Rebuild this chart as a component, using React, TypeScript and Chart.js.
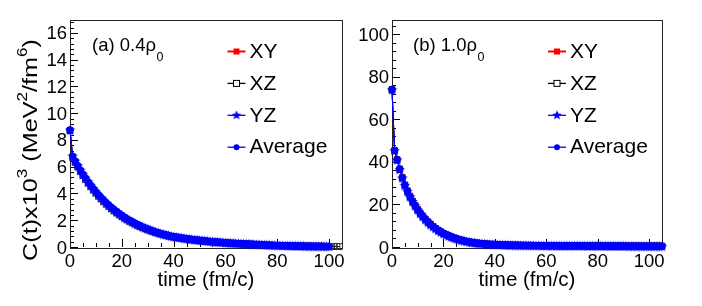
import React, { useEffect, useRef } from "react";
import { Chart, registerables } from "chart.js";
Chart.register(...registerables);

const FONT = '"Liberation Sans", Arial, Helvetica, sans-serif';

// time (fm/c)
const TIMES = [
  0, 1, 2, 3, 4, 5, 6, 7, 8, 9, 10, 11, 12, 13, 14, 15, 16, 17, 18, 19, 20,
  21, 22, 23, 24, 25, 26, 27, 28, 29, 30, 31, 32, 33, 34, 35, 36, 37, 38, 39, 40,
  41, 42, 43, 44, 45, 46, 47, 48, 49, 50, 51, 52, 53, 54, 55, 56, 57, 58, 59, 60,
  61, 62, 63, 64, 65, 66, 67, 68, 69, 70, 71, 72, 73, 74, 75, 76, 77, 78, 79, 80,
  81, 82, 83, 84, 85, 86, 87, 88, 89, 90, 91, 92, 93, 94, 95, 96, 97, 98, 99, 100,
  101, 102, 103, 104, 105,
];

// (a) 0.4 rho0 : XY, YZ and Average coincide in the picture
const LEFT_MAIN = [
  8.75,
  6.8, 6.43, 6.08, 5.75, 5.44, 5.15, 4.87, 4.61, 4.36, 4.12,
  3.9, 3.69, 3.49, 3.3, 3.12, 2.95, 2.79, 2.64, 2.5, 2.36,
  2.23, 2.11, 2.0, 1.89, 1.79, 1.69, 1.6, 1.51, 1.43, 1.35,
  1.28, 1.21, 1.14, 1.08, 1.02, 0.97, 0.92, 0.87, 0.82, 0.78,
  0.75, 0.72, 0.69, 0.66, 0.63, 0.6, 0.58, 0.55, 0.53, 0.51,
  0.49, 0.47, 0.45, 0.43, 0.41, 0.39, 0.38, 0.36, 0.35, 0.33,
  0.32, 0.3, 0.29, 0.28, 0.27, 0.26, 0.25, 0.24, 0.23, 0.22,
  0.21, 0.2, 0.19, 0.18, 0.17, 0.16, 0.15, 0.14, 0.13, 0.12,
  0.12, 0.11, 0.11, 0.1, 0.1, 0.09, 0.09, 0.08, 0.08, 0.08,
  0.07, 0.07, 0.07, 0.06, 0.06, 0.06, 0.06, 0.05, 0.05, 0.05,
];
const LEFT_XZ = [
  8.7,
  6.7, 6.33, 5.98, 5.65, 5.34, 5.05, 4.77, 4.51, 4.26, 4.02,
  3.8, 3.59, 3.39, 3.2, 3.03, 2.86, 2.7, 2.55, 2.41, 2.28,
  2.15, 2.03, 1.92, 1.82, 1.72, 1.62, 1.53, 1.45, 1.37, 1.29,
  1.22, 1.15, 1.09, 1.03, 0.97, 0.92, 0.87, 0.82, 0.78, 0.74,
  0.71, 0.68, 0.65, 0.62, 0.59, 0.57, 0.54, 0.52, 0.5, 0.48,
  0.46, 0.44, 0.42, 0.4, 0.38, 0.37, 0.35, 0.34, 0.32, 0.31,
  0.3, 0.28, 0.27, 0.26, 0.25, 0.24, 0.23, 0.22, 0.21, 0.2,
  0.19, 0.18, 0.17, 0.16, 0.15, 0.14, 0.13, 0.13, 0.12, 0.11,
  0.11, 0.1, 0.1, 0.09, 0.09, 0.08, 0.08, 0.08, 0.07, 0.07,
  0.07, 0.06, 0.06, 0.06, 0.05, 0.05, 0.05, 0.05, 0.04, 0.04,
  0.04, 0.04, 0.04, 0.03,
];

// (b) 1.0 rho0 : XZ, YZ and Average coincide, XY slightly above
const RIGHT_MAIN = [
  74.0, 45.3, 41.0, 36.5, 32.5, 29.0, 26.2, 23.7, 21.4, 19.4,
  17.5, 15.8, 14.3, 12.9, 11.7, 10.6, 9.6, 8.7, 7.8, 7.1, 6.4,
  5.8, 5.25, 4.75, 4.3, 3.9, 3.5, 3.2, 2.9, 2.6, 2.4,
  2.2, 2.0, 1.85, 1.7, 1.6, 1.5, 1.4, 1.3, 1.25, 1.2,
  1.15, 1.1, 1.05, 1.0, 0.97, 0.94, 0.9, 0.87, 0.85, 0.82,
  0.8, 0.78, 0.76, 0.74, 0.72, 0.7, 0.68, 0.67, 0.66, 0.65,
  0.64, 0.63, 0.62, 0.62, 0.61, 0.6, 0.6, 0.6, 0.59, 0.6,
  0.62, 0.63, 0.61, 0.6, 0.58, 0.57, 0.56, 0.55, 0.55, 0.54,
  0.54, 0.53, 0.52, 0.52, 0.51, 0.5, 0.5, 0.49, 0.49, 0.48,
  0.48, 0.47, 0.47, 0.46, 0.46, 0.45, 0.45, 0.44, 0.44, 0.44,
  0.43, 0.43, 0.42, 0.42, 0.42,
];
const RIGHT_XY = [
  74.4, 45.8, 41.5, 37.1, 33.1, 29.6, 26.8, 24.3, 22.0, 19.9,
  18.0, 16.3, 14.7, 13.3, 12.1, 11.0, 9.9, 9.0, 8.1, 7.35, 6.65,
  6.05, 5.45, 4.95, 4.5, 4.05, 3.65, 3.35, 3.05, 2.75, 2.5,
  2.3, 2.1, 1.95, 1.8, 1.68, 1.57, 1.47, 1.37, 1.3, 1.24,
  1.19, 1.13, 1.08, 1.03, 0.99, 0.96, 0.92, 0.89, 0.87, 0.84,
  0.82, 0.8, 0.78, 0.76, 0.74, 0.72, 0.7, 0.69, 0.68, 0.67,
  0.66, 0.65, 0.64, 0.63, 0.62, 0.62, 0.61, 0.61, 0.61, 0.62,
  0.64, 0.65, 0.63, 0.61, 0.59, 0.58, 0.57, 0.56, 0.56, 0.55,
  0.55, 0.54, 0.53, 0.53, 0.52, 0.51, 0.51, 0.5, 0.5, 0.49,
  0.49, 0.48, 0.48, 0.47, 0.47, 0.46, 0.46, 0.45, 0.45, 0.45,
  0.44, 0.44, 0.43, 0.43, 0.43,
];

const X_TICKS = [0, 20, 40, 60, 80, 100];
const LEFT_Y_TICKS = [0, 2, 4, 6, 8, 10, 12, 14, 16];
const RIGHT_Y_TICKS = [0, 20, 40, 60, 80, 100];
const LEGEND_LABELS = ["XY", "XZ", "YZ", "Average"];

function makeStar(color: string, size: number) {
  const c = document.createElement("canvas");
  c.width = size;
  c.height = size;
  const ctx = c.getContext("2d")!;
  const cx = size / 2, cy = size / 2 + 0.5, R = size / 2, r = R * 0.45;
  ctx.beginPath();
  for (let i = 0; i < 10; i++) {
    const a = -Math.PI / 2 + (i * Math.PI) / 5;
    const rad = i % 2 === 0 ? R : r;
    ctx.lineTo(cx + rad * Math.cos(a), cy + rad * Math.sin(a));
  }
  ctx.closePath();
  ctx.fillStyle = color;
  ctx.fill();
  return c;
}

type Part = { t: string; sup?: boolean; sub?: boolean };

function drawRich(ctx: CanvasRenderingContext2D, parts: Part[], x: number, y: number, size: number, align: "left" | "center") {
  const small = size * 0.68;
  const widths = parts.map((p) => {
    ctx.font = `${p.sup || p.sub ? small : size}px ${FONT}`;
    return ctx.measureText(p.t).width;
  });
  const total = widths.reduce((a, b) => a + b, 0);
  let cx = align === "center" ? x - total / 2 : x;
  ctx.textAlign = "left";
  ctx.textBaseline = "alphabetic";
  parts.forEach((p, i) => {
    ctx.font = `${p.sup || p.sub ? small : size}px ${FONT}`;
    const dy = p.sup ? -size * 0.45 : p.sub ? size * 0.45 : 0;
    ctx.fillText(p.t, cx, y + dy);
    cx += widths[i];
  });
}

type PanelCfg = {
  pad: { left: number; right: number; top: number; bottom: number };
  yMax: number;
  yMajor: number;
  yTicks: number[];
  xyData: number[];
  xzData: number[];
  yzData: number[];
  avgData: number[];
  label: string;
  labelX: number;
  legendX: number;
  yTitle: boolean;
};

function Panel({ cfg }: { cfg: PanelCfg }) {
  const ref = useRef<HTMLCanvasElement>(null);
  useEffect(() => {
    const star = makeStar("#0000ff", 11);
    const legendStar = makeStar("#0000ff", 10);
    const pts = (arr: number[]) => arr.map((v, i) => ({ x: TIMES[i], y: v }));

    const markerFor = (i: number, ctx: CanvasRenderingContext2D, x: number, y: number) => {
      if (i === 0) {
        ctx.fillStyle = "#ff0000";
        ctx.fillRect(x - 3, y - 3, 6, 6);
      } else if (i === 1) {
        ctx.strokeStyle = "#000";
        ctx.lineWidth = 1;
        ctx.fillStyle = "#fff";
        ctx.fillRect(x - 3, y - 3, 6, 6);
        ctx.strokeRect(x - 3, y - 3, 6, 6);
      } else if (i === 2) {
        ctx.drawImage(legendStar, x - 5, y - 5.5);
      } else {
        ctx.fillStyle = "#0000ff";
        ctx.beginPath();
        ctx.arc(x, y, 3, 0, Math.PI * 2);
        ctx.fill();
      }
    };

    const framePlugin = {
      id: "frame",
      beforeDatasetsDraw(chart: any) {
        const ctx: CanvasRenderingContext2D = chart.ctx;
        const a = chart.chartArea;
        const xs = chart.scales.x, ys = chart.scales.y;
        ctx.save();
        ctx.strokeStyle = "#000";
        ctx.lineWidth = 1;
        ctx.beginPath();
        const xMinor = 5;
        for (let v = 0; v <= 105 + 1e-6; v += xMinor) {
          const px = Math.round(xs.getPixelForValue(v)) + 0.5;
          const len = Math.abs(v % 20) < 1e-6 ? 8 : 4;
          ctx.moveTo(px, a.bottom);
          ctx.lineTo(px, a.bottom - len);
        }
        const yMinor = cfg.yMajor / 5;
        for (let k = 0; k * yMinor <= cfg.yMax + 1e-6; k++) {
          const v = k * yMinor;
          const py = Math.round(ys.getPixelForValue(v)) + 0.5;
          const len = k % 5 === 0 ? 8 : 4;
          ctx.moveTo(a.left, py);
          ctx.lineTo(a.left + len, py);
        }
        ctx.stroke();
        ctx.strokeStyle = "#222";
        ctx.strokeRect(Math.round(a.left) + 0.5, Math.round(a.top) + 0.5, Math.round(a.right - a.left), Math.round(a.bottom - a.top));
        ctx.restore();
      },
      afterDraw(chart: any) {
        const ctx: CanvasRenderingContext2D = chart.ctx;
        const a = chart.chartArea;
        const xs = chart.scales.x, ys = chart.scales.y;
        ctx.save();
        ctx.fillStyle = "#000";
        ctx.font = `18.5px ${FONT}`;
        ctx.textBaseline = "alphabetic";
        ctx.textAlign = "center";
        X_TICKS.forEach((v) => {
          ctx.fillText(String(v), xs.getPixelForValue(v), 266.5);
        });
        ctx.textAlign = "right";
        cfg.yTicks.forEach((v) => {
          ctx.fillText(String(v), a.left - 3, ys.getPixelForValue(v) + 6.5);
        });
        drawRich(ctx, [{ t: "time (fm/c)" }], (a.left + a.right) / 2, 286, 20.5, "center");
        if (cfg.yTitle) {
          ctx.save();
          ctx.translate(36.5, 150);
          ctx.rotate(-Math.PI / 2);
          ctx.scale(1.2, 1);
          drawRich(
            ctx,
            [
              { t: "C(t)x10" }, { t: "3", sup: true }, { t: " (MeV" }, { t: "2", sup: true },
              { t: "/fm" }, { t: "6", sup: true }, { t: ")" },
            ],
            0, 0, 21, "center"
          );
          ctx.restore();
        }
        drawRich(ctx, [{ t: cfg.label }, { t: "\u03c1" }], cfg.labelX, 51, 18.5, "left");
        ctx.font = `18.5px ${FONT}`;
        const wl = ctx.measureText(cfg.label + "\u03c1").width;
        ctx.font = `12.5px ${FONT}`;
        ctx.textAlign = "left";
        ctx.fillText("0", cfg.labelX + wl + 0.5, 60.5);
        const colors = ["#ff0000", "#000000", "#0000ff", "#0000ff"];
        LEGEND_LABELS.forEach((lab, i) => {
          const y = 51.5 + i * 31.9;
          ctx.strokeStyle = colors[i];
          ctx.lineWidth = i === 0 ? 2 : 1.3;
          ctx.beginPath();
          ctx.moveTo(cfg.legendX, y);
          ctx.lineTo(cfg.legendX + 18, y);
          ctx.stroke();
          markerFor(i, ctx, cfg.legendX + 9, y);
          ctx.fillStyle = "#000";
          ctx.font = `21px ${FONT}`;
          ctx.textAlign = "left";
          ctx.textBaseline = "middle";
          ctx.fillText(lab, cfg.legendX + 22, y + 0.5);
        });
        ctx.restore();
      },
    };

    const chart = new Chart(ref.current!, {
      type: "line",
      data: {
        datasets: [
          {
            label: "Average",
            data: pts(cfg.avgData),
            borderColor: "#0000ff",
            backgroundColor: "#0000ff",
            borderWidth: 1,
            pointStyle: "circle",
            pointRadius: 3.6,
            pointBorderWidth: 0,
            clip: false as any,
          },
          {
            label: "YZ",
            data: pts(cfg.yzData),
            borderColor: "#0000ff",
            backgroundColor: "#0000ff",
            borderWidth: 1,
            pointStyle: star as any,
            pointRadius: 4,
            clip: false as any,
          },
          {
            label: "XZ",
            data: pts(cfg.xzData),
            borderColor: "#000000",
            backgroundColor: "rgba(0,0,0,0)",
            pointBackgroundColor: "rgba(0,0,0,0)",
            pointBorderColor: "#333",
            borderWidth: 1,
            pointStyle: "rect",
            pointRadius: 4.2,
            pointBorderWidth: 1,
            clip: false as any,
          },
          {
            label: "XY",
            data: pts(cfg.xyData),
            borderColor: "#ff0000",
            backgroundColor: "#ff0000",
            borderWidth: 1.2,
            pointStyle: "rect",
            pointRadius: 3.9,
            pointBorderWidth: 0,
            clip: false as any,
          },
        ],
      },
      options: {
        animation: false,
        responsive: false,
        devicePixelRatio: 1,
        layout: { padding: cfg.pad },
        plugins: { legend: { display: false }, tooltip: { enabled: false } },
        scales: {
          x: { type: "linear", min: 0, max: 105, display: false },
          y: { type: "linear", min: 0, max: cfg.yMax, display: false },
        },
      },
      plugins: [framePlugin],
    });
    return () => chart.destroy();
  }, [cfg]);
  return <canvas ref={ref} width={351} height={306} style={{ display: "block", width: 351, height: 306 }} />;
}

const LEFT_CFG: PanelCfg = {
  pad: { left: 70, right: 9, top: 19.5, bottom: 59 },
  yMax: 17,
  yMajor: 2,
  yTicks: LEFT_Y_TICKS,
  xyData: LEFT_MAIN,
  xzData: LEFT_XZ,
  yzData: LEFT_MAIN,
  avgData: LEFT_MAIN,
  label: "(a) 0.4",
  labelX: 92,
  legendX: 227.5,
  yTitle: true,
};

const RIGHT_CFG: PanelCfg = {
  pad: { left: 41, right: 40, top: 19.5, bottom: 59 },
  yMax: 107,
  yMajor: 20,
  yTicks: RIGHT_Y_TICKS,
  xyData: RIGHT_XY,
  xzData: RIGHT_MAIN,
  yzData: RIGHT_MAIN,
  avgData: RIGHT_MAIN,
  label: "(b) 1.0",
  labelX: 62,
  legendX: 197,
  yTitle: false,
};

export default function App() {
  return (
    <div style={{ position: "fixed", left: 0, top: 0, width: 702, height: 306, background: "#fff", display: "flex" }}>
      <Panel cfg={LEFT_CFG} />
      <Panel cfg={RIGHT_CFG} />
    </div>
  );
}
